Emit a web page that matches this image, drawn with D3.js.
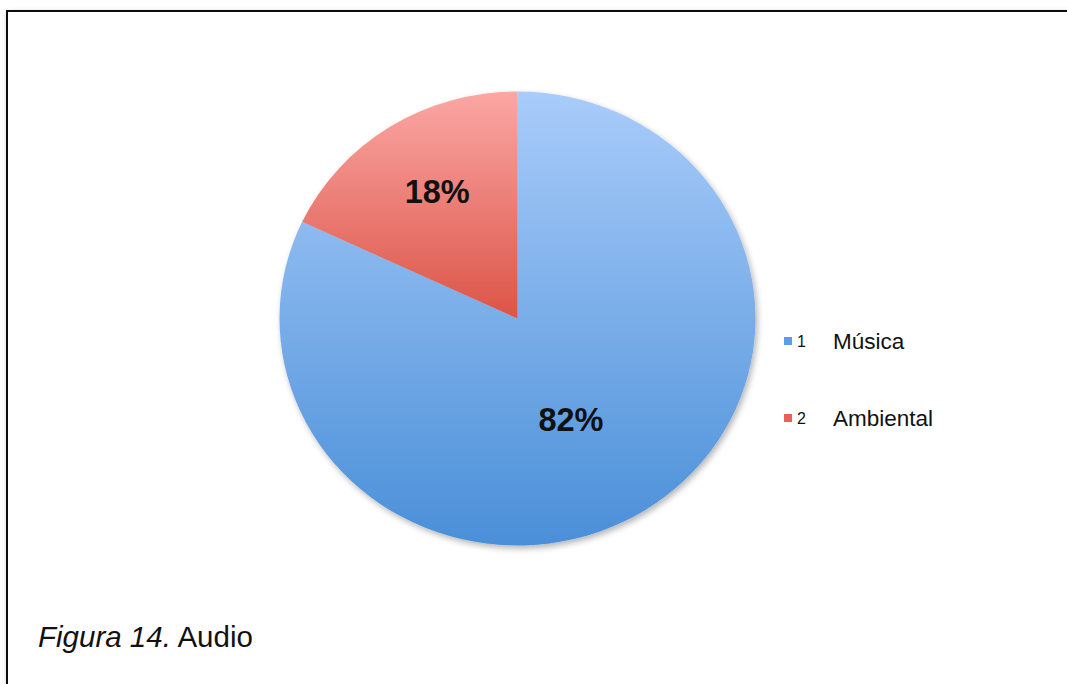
<!DOCTYPE html>
<html><head><meta charset="utf-8">
<script src="https://cdn.jsdelivr.net/npm/d3@7"></script>
<style>html,body{margin:0;padding:0;background:#fff;overflow:hidden}</style>
</head><body>
<svg id="c" width="1067" height="684"></svg>
<script>
const categories = ["Música", "Ambiental"];
const legendNumbers = ["1", "2"];
const values = [82, 18];
const labels = ["82%", "18%"];
const caption = ["Figura 14.", " Audio"];

const svg = d3.select("#c");
const defs = svg.append("defs");
const f = defs.append("filter").attr("id","sh").attr("x","-5%").attr("y","-5%").attr("width","110%").attr("height","110%");
f.append("feGaussianBlur").attr("in","SourceAlpha").attr("stdDeviation",3);
f.append("feOffset").attr("dx",2).attr("dy",3).attr("result","b");
f.append("feComponentTransfer").append("feFuncA").attr("type","linear").attr("slope",0.3);
const m = f.append("feMerge"); m.append("feMergeNode"); m.append("feMergeNode").attr("in","SourceGraphic");

// frame
svg.append("rect").attr("x",7).attr("y",11).attr("width",1100).attr("height",700)
  .attr("fill","#fff").attr("stroke","#111").attr("stroke-width",2).attr("filter","url(#sh)");

const cx = 517.5, cy = 318.5, rx = 238, ry = 227;
const r = ry;
const grads = [
  {id:"gBlue", stops:[[-r,"#a9ccfa"],[r,"#4a8fd8"]]},
  {id:"gRed", stops:[[-r,"#fba7a4"],[0,"#dc5447"]]}
];
grads.forEach(g=>{
  const lg = defs.append("linearGradient").attr("id",g.id).attr("gradientUnits","userSpaceOnUse")
    .attr("x1",0).attr("x2",0).attr("y1",g.stops[0][0]).attr("y2",g.stops[1][0]);
  lg.append("stop").attr("offset","0%").attr("stop-color",g.stops[0][1]);
  lg.append("stop").attr("offset","100%").attr("stop-color",g.stops[1][1]);
});
const fills = ["url(#gBlue)","url(#gRed)"];
const legendColors = ["#5d9ce6","#e8625a"];

const pie = d3.pie().sort(null).value(d=>d);
const arc = d3.arc().innerRadius(0).outerRadius(r);
const arcs = pie(values);
const g = svg.append("g").attr("transform",`translate(${cx},${cy}) scale(${rx/ry},1)`);
const pg = g.append("g").attr("filter","url(#sh)");
pg.selectAll("path").data(arcs).join("path").attr("d",arc).attr("fill",(d,i)=>fills[i]);

const labelR = [0.53, 0.66];
const labelXF = [0.83, 1.0];
arcs.forEach((d,i)=>{
  const la = d3.arc().innerRadius(r*labelR[i]).outerRadius(r*labelR[i]);
  const c = la.centroid(d);
  svg.append("text").attr("x",cx + c[0]*labelXF[i]).attr("y",cy + c[1]).attr("dy","0.35em")
    .attr("text-anchor","middle").attr("font-family","Liberation Sans, Arial, sans-serif")
    .attr("font-weight","bold").attr("font-size",32.5).attr("fill","#111").text(labels[i]);
});

// legend
const lg = svg.append("g");
const ly = d3.scalePoint().domain(categories).range([341,418]);
categories.forEach((c,i)=>{
  const y = ly(c);
  lg.append("rect").attr("x",784).attr("y",y-4).attr("width",8).attr("height",8).attr("fill",legendColors[i]);
  lg.append("text").attr("x",797).attr("y",y+5.5).attr("font-family","Liberation Sans, Arial, sans-serif")
    .attr("font-size",16).attr("fill","#111").text(legendNumbers[i]);
  lg.append("text").attr("x",833).attr("y",y+7.5).attr("font-family","Liberation Sans, Arial, sans-serif")
    .attr("font-size",22.5).attr("fill","#111").text(c);
});

// caption
const t = svg.append("text").attr("x",38).attr("y",647).attr("font-family","Liberation Sans, Arial, sans-serif")
  .attr("font-size",29.5).attr("fill","#111");
t.append("tspan").attr("font-style","italic").text(caption[0]);
t.append("tspan").text(caption[1]);
</script>
</body></html>
